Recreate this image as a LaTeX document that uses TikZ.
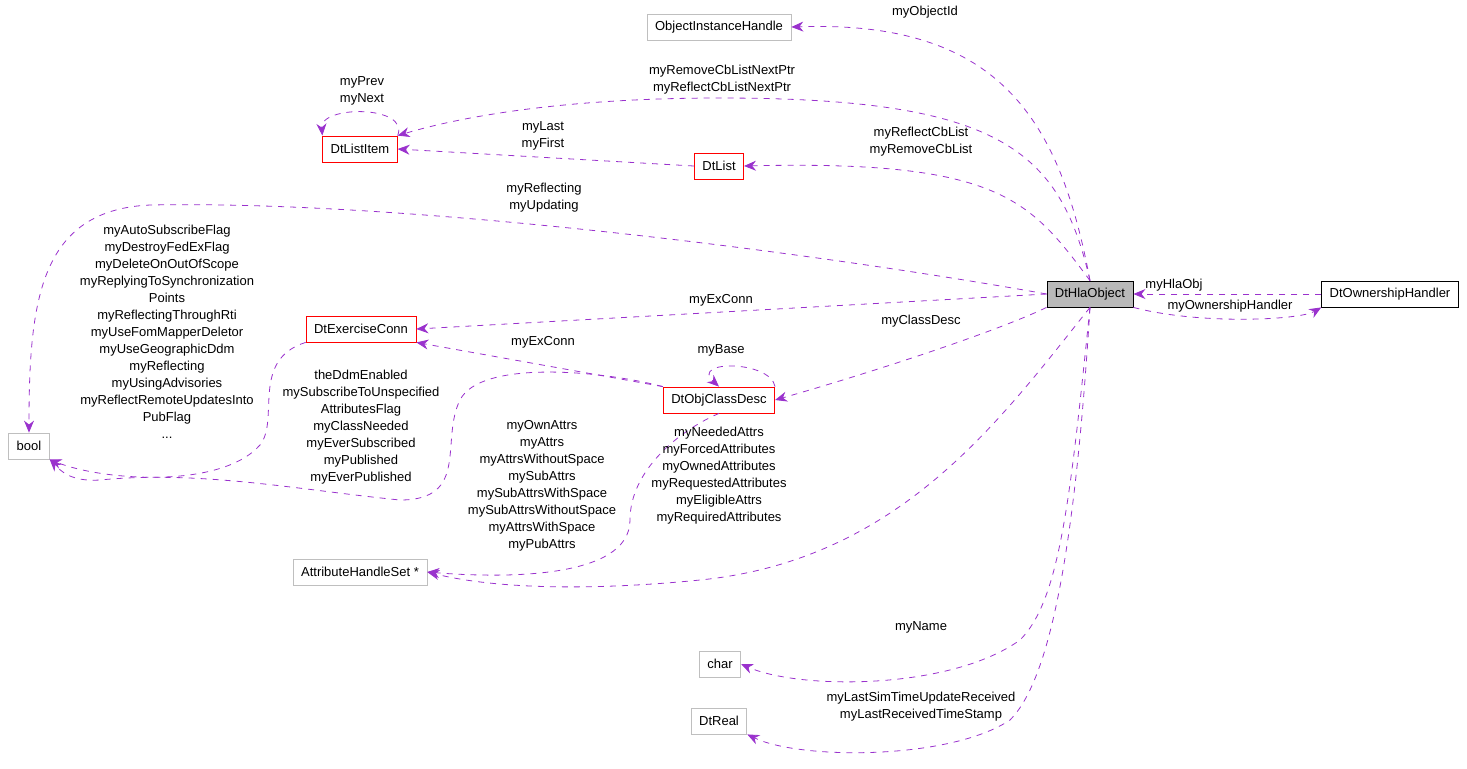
\documentclass[tikz,border=0pt]{standalone}
\usepackage{fontspec}
\setmainfont{Liberation Sans}
\usetikzlibrary{arrows.meta}
\definecolor{edgecol}{HTML}{9A32CD}
\definecolor{boxgray}{HTML}{BFBFBF}
\tikzset{
  cls/.style={draw=red, fill=white, minimum height=13pt, inner xsep=4pt, font=\fontsize{6.5}{8}\selectfont},
  ext/.style={draw=boxgray, fill=white, minimum height=13pt, inner xsep=4pt, font=\fontsize{6.5}{8}\selectfont},
  mbr/.style={draw=edgecol, dashed, -{Stealth[length=6pt,width=5pt]}, thin},
  lbl/.style={font=\fontsize{6.5}{8.5}\selectfont, align=center, inner sep=0pt}
}
\begin{document}
\begin{tikzpicture}[x=0.5pt,y=-0.5pt]
\useasboundingbox (0,0) rectangle (1467,768);

\node[ext] at (719,27) (oih) {ObjectInstanceHandle};
\node[cls] at (360,149) (listitem) {DtListItem};
\node[cls] at (719,166) (list) {DtList};
\node[ext] at (29,446) (bool) {bool};
\node[draw=black, fill=gray!55, minimum height=13pt, inner xsep=4pt, font=\fontsize{6.5}{8}\selectfont] at (1090,294) (hla) {DtHlaObject};
\node[draw=black, fill=white, minimum height=13pt, inner xsep=4pt, font=\fontsize{6.5}{8}\selectfont] at (1390,294) (owner) {DtOwnershipHandler};
\node[cls] at (361,329) (exconn) {DtExerciseConn};
\node[cls] at (719,400) (classdesc) {DtObjClassDesc};
\node[ext] at (360,572) (ahs) {AttributeHandleSet *};
\node[ext] at (720,664) (char) {char};
\node[ext] at (719,721) (real) {DtReal};

% members of DtHlaObject
\draw[mbr] (hla.north) .. controls (1060,120) and (1000,20) .. (oih.east);
\node[lbl] at (925,12) {myObjectId};
\draw[mbr] (hla.north) .. controls (1060,150) and (1000,98) .. (720,98) .. controls (550,98) and (450,120) .. (listitem.north east);
\node[lbl] at (722,80) {myRemoveCbListNextPtr\\myReflectCbListNextPtr};
\draw[mbr] (hla.north) .. controls (1030,200) and (1000,160) .. (list.east);
\node[lbl] at (921,142) {myReflectCbList\\myRemoveCbList};
\draw[mbr] (hla.west) .. controls (800,250) and (400,200) .. (150,205) .. controls (40,210) and (29,300) .. (bool.north);
\node[lbl] at (544,198) {myReflecting\\myUpdating};
\draw[mbr] (hla.west) -- (exconn.east);
\node[lbl] at (721,300) {myExConn};
\draw[mbr] (hla.south west) .. controls (1000,330) and (880,370) .. (classdesc.east);
\node[lbl] at (921,321) {myClassDesc};
\draw[mbr] (hla.south) .. controls (1000,420) and (900,560) .. (700,580) .. controls (600,590) and (500,590) .. (ahs.east);
\node[lbl] at (542,486) {myOwnAttrs\\myAttrs\\myAttrsWithoutSpace\\mySubAttrs\\mySubAttrsWithSpace\\mySubAttrsWithoutSpace\\myAttrsWithSpace\\myPubAttrs};
\draw[mbr] (hla.south) .. controls (1070,500) and (1060,600) .. (1020,640) .. controls (950,690) and (800,690) .. (char.east);
\node[lbl] at (921,627) {myName};
\draw[mbr] (hla.south) .. controls (1075,550) and (1050,680) .. (1010,720) .. controls (950,760) and (800,760) .. (real.south east);
\node[lbl] at (921,707) {myLastSimTimeUpdateReceived\\myLastReceivedTimeStamp};
\draw[mbr] (hla.south east) .. controls (1200,325) and (1300,320) .. (owner.south west);
\node[lbl] at (1230,306) {myOwnershipHandler};

% member of DtOwnershipHandler
\draw[mbr] (owner.west) -- (hla.east);
\node[lbl] at (1174,285) {myHlaObj};

% members of DtListItem and DtList
\draw[mbr] (listitem.north east) .. controls (410,105) and (320,105) .. (listitem.north west);
\node[lbl] at (362,91) {myPrev\\myNext};
\draw[mbr] (list.west) -- (listitem.east);
\node[lbl] at (543,136) {myLast\\myFirst};

% members of DtExerciseConn
\draw[mbr] (exconn.south west) .. controls (250,360) and (280,420) .. (260,445) .. controls (220,490) and (100,480) .. (bool.south east);
\node[lbl] at (167,332) {myAutoSubscribeFlag\\myDestroyFedExFlag\\myDeleteOnOutOfScope\\myReplyingToSynchronization\\Points\\myReflectingThroughRti\\myUseFomMapperDeletor\\myUseGeographicDdm\\myReflecting\\myUsingAdvisories\\myReflectRemoteUpdatesInto\\PubFlag\\...};

% members of DtObjClassDesc
\draw[mbr] (classdesc.north west) .. controls (600,370) and (480,360) .. (460,400) .. controls (440,440) and (470,500) .. (400,500) .. controls (300,490) and (200,470) .. (100,480) .. controls (70,482) and (60,470) .. (bool.south east);
\node[lbl] at (361,427) {theDdmEnabled\\mySubscribeToUnspecified\\AttributesFlag\\myClassNeeded\\myEverSubscribed\\myPublished\\myEverPublished};
\draw[mbr] (classdesc.north west) -- (exconn.south east);
\node[lbl] at (543,342) {myExConn};
\draw[mbr] (classdesc.north east) .. controls (770,360) and (690,360) .. (classdesc.north);
\node[lbl] at (721,350) {myBase};
\draw[mbr] (classdesc.south) .. controls (680,430) and (630,470) .. (630,520) .. controls (630,580) and (500,578) .. (ahs.east);
\node[lbl] at (719,476) {myNeededAttrs\\myForcedAttributes\\myOwnedAttributes\\myRequestedAttributes\\myEligibleAttrs\\myRequiredAttributes};
\end{tikzpicture}
\end{document}
